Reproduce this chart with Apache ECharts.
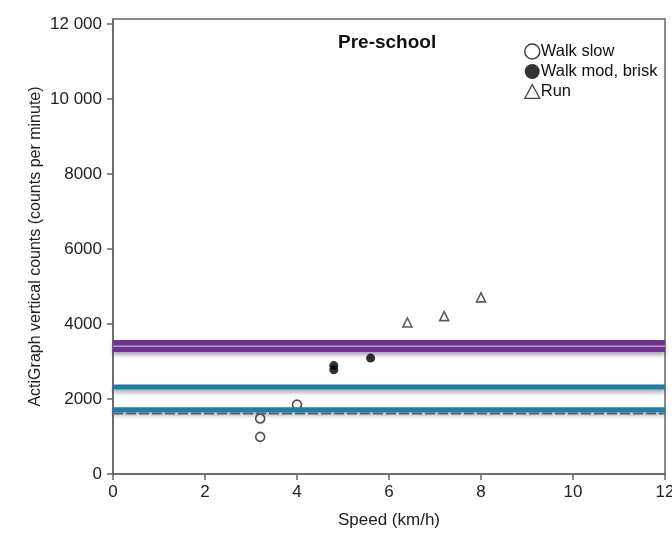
<!DOCTYPE html>
<html>
<head>
<meta charset="utf-8">
<script src="https://cdn.jsdelivr.net/npm/echarts@6/dist/echarts.min.js"></script>
<style>
  html, body { margin: 0; padding: 0; background: #fff; }
  #chart { width: 672px; height: 535px; }
</style>
</head>
<body>
<div id="chart"></div>
<script>
// Speed (km/h) and ActiGraph vertical counts per activity type
const walkSlow = [[3.2, 1480], [3.2, 990], [4.0, 1850]];
const walkBrisk = [[4.8, 2890], [4.8, 2780], [5.6, 3090]];
const run = [[6.4, 4040], [7.2, 4210], [8.0, 4710]];

// Cut-point levels (counts per minute) drawn across the full speed range
const cutPurple = 3410;
const cutBlueHigh = 2320;
const cutBlueLow = 1715;
const cutGreyDashed = 1615;

const xTicks = [0, 2, 4, 6, 8, 10, 12];
const yTicks = [0, 2000, 4000, 6000, 8000, 10000, 12000];
const yTickLabels = ['0', '2000', '4000', '6000', '8000', '10 000', '12 000'];
const lineSpan = [0, 12];

const font = 'Liberation Sans, Arial, sans-serif';

function hLine(value, color, width, extra) {
  return Object.assign({
    type: 'line',
    data: lineSpan.map(x => [x, value]),
    symbol: 'none',
    silent: true,
    z: 3,
    lineStyle: {
      color: color,
      width: width,
      shadowColor: 'rgba(0,0,0,0.35)',
      shadowBlur: 4,
      shadowOffsetY: 3
    }
  }, extra || {});
}

const chart = echarts.init(document.getElementById('chart'), null, { renderer: 'canvas' });

chart.setOption({
  backgroundColor: '#fff',
  animation: false,
  title: {
    text: 'Pre-school',
    left: 333,
    top: 28,
    textStyle: { fontFamily: font, fontSize: 19, fontWeight: 'bold', color: '#111' }
  },
  legend: {
    orient: 'vertical',
    left: 519,
    top: 38,
    itemWidth: 15,
    itemHeight: 15,
    itemGap: 3,
    textStyle: { fontFamily: font, fontSize: 16.5, color: '#111', padding: [0, 0, 0, -4] },
    data: [
      { name: 'Walk slow', icon: 'circle', itemStyle: { color: '#fff', borderColor: '#111', borderWidth: 1.5 } },
      { name: 'Walk mod, brisk', icon: 'circle', itemStyle: { color: '#000' } },
      { name: 'Run', icon: 'path://M7,1 L13,12 L1,12 Z', itemStyle: { color: '#fff', borderColor: '#111', borderWidth: 1.2 } }
    ]
  },
  grid: {
    left: 113, right: 7, top: 19, bottom: 61,
    outerBoundsMode: 'none',
    containLabel: false,
    show: true, borderColor: '#666', borderWidth: 1.5, backgroundColor: '#fff'
  },
  xAxis: {
    type: 'value',
    min: 0, max: 12, interval: 2,
    name: 'Speed (km/h)',
    nameLocation: 'middle',
    nameGap: 38,
    nameMoveOverlap: false,
    nameTextStyle: { fontFamily: font, fontSize: 17, color: '#222' },
    axisLine: { show: true, onZero: false, lineStyle: { color: '#666', width: 1.5 } },
    axisTick: { show: true, length: 6, lineStyle: { color: '#666', width: 1.5 }, customValues: xTicks },
    axisLabel: { fontFamily: font, fontSize: 17, color: '#222', margin: 10, customValues: xTicks },
    splitLine: { show: false }
  },
  yAxis: {
    type: 'value',
    min: 0, max: 12133,
    name: 'ActiGraph vertical counts (counts per minute)',
    nameLocation: 'middle',
    nameGap: 69,
    nameMoveOverlap: false,
    nameTextStyle: { fontFamily: font, fontSize: 16, color: '#222' },
    axisLine: { show: true, lineStyle: { color: '#666', width: 1.5 } },
    axisTick: { show: true, length: 6, lineStyle: { color: '#666', width: 1.5 }, customValues: yTicks },
    axisLabel: {
      fontFamily: font, fontSize: 17, color: '#222', margin: 11,
      customValues: yTicks,
      formatter: v => yTickLabels[yTicks.indexOf(v)]
    },
    splitLine: { show: false }
  },
  series: [
    {
      name: 'Walk slow', type: 'scatter', data: walkSlow,
      symbol: 'circle', symbolSize: 9, z: 2,
      itemStyle: { color: '#fff', borderColor: '#222', borderWidth: 1.6 }
    },
    {
      name: 'Walk mod, brisk', type: 'scatter', data: walkBrisk,
      symbol: 'circle', symbolSize: 9, z: 2,
      itemStyle: { color: '#000' }
    },
    {
      name: 'Run', type: 'scatter', data: run,
      symbol: 'triangle', symbolSize: 9, z: 2,
      itemStyle: { color: '#fff', borderColor: '#333', borderWidth: 1.6 }
    },
    hLine(cutGreyDashed, '#808080', 2, { lineStyle: { color: '#808080', width: 2, type: [10, 3] } }),
    hLine(cutBlueLow, '#1a80aa', 5),
    hLine(cutBlueHigh, '#1a80aa', 5),
    hLine(cutPurple, '#6e3391', 12),
    hLine(cutPurple, '#d8d0dc', 1, { lineStyle: { color: '#d8d0dc', width: 1 } })
  ]
});
</script>
</body>
</html>
